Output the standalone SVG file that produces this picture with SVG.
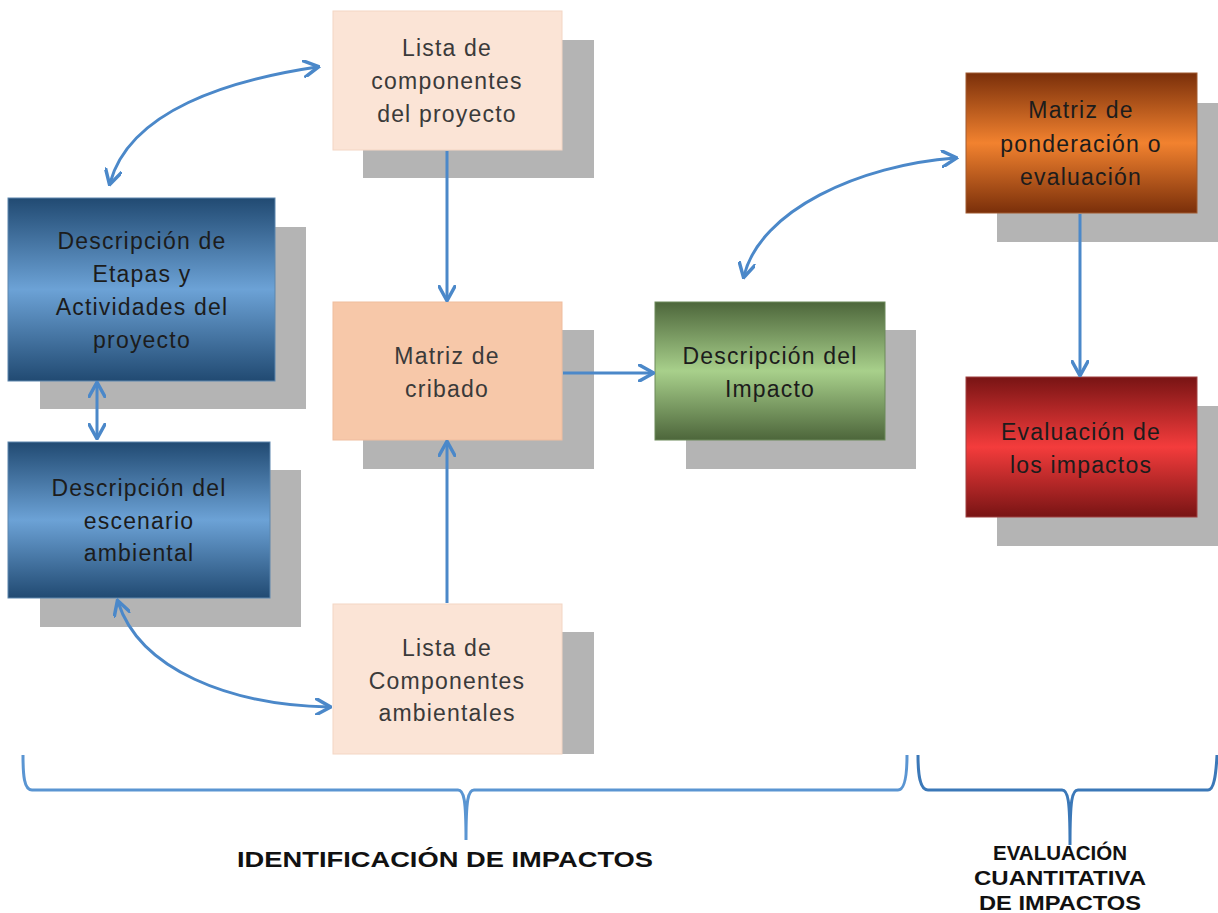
<svg xmlns="http://www.w3.org/2000/svg" width="1218" height="913" viewBox="0 0 1218 913">
<style>
.sh{fill:#b4b4b4}
.t{font-family:"Liberation Sans",Arial,sans-serif;font-size:23px;letter-spacing:1.2px;fill:#1c1c1c;text-anchor:middle}
.tp{fill:#3a3a3a}
.c{fill:none;stroke:#4b88c9;stroke-width:3}
.br{fill:none;stroke:#5a95d2;stroke-width:3}
.br2{fill:none;stroke:#3b78b8;stroke-width:3}
.h{font-family:"Liberation Sans",Arial,sans-serif;font-weight:bold;fill:#111;text-anchor:middle}
</style>
<defs>
<linearGradient id="gb" x1="0" y1="0" x2="0" y2="1"><stop offset="0" stop-color="#214a72"/><stop offset="0.5" stop-color="#6ca2d6"/><stop offset="1" stop-color="#214a72"/></linearGradient>
<linearGradient id="gg" x1="0" y1="0" x2="0" y2="1"><stop offset="0" stop-color="#4d663b"/><stop offset="0.5" stop-color="#a8d08b"/><stop offset="1" stop-color="#4d663b"/></linearGradient>
<linearGradient id="go" x1="0" y1="0" x2="0" y2="1"><stop offset="0" stop-color="#7a2f0a"/><stop offset="0.5" stop-color="#f2822f"/><stop offset="1" stop-color="#7a2f0a"/></linearGradient>
<linearGradient id="gr" x1="0" y1="0" x2="0" y2="1"><stop offset="0" stop-color="#781414"/><stop offset="0.5" stop-color="#f43c3c"/><stop offset="1" stop-color="#781414"/></linearGradient>
<marker id="ah" viewBox="0 0 10 10" refX="8" refY="5" markerWidth="5.8" markerHeight="5.8" orient="auto-start-reverse"><path d="M0,0 L9,5 L0,10" fill="none" stroke="#4b88c9" stroke-width="2"/></marker>
</defs>

<g id="n-etapas">
<rect class="sh" x="40" y="227" width="266" height="182"/>
<rect x="8" y="198" width="267" height="183" fill="url(#gb)" stroke="#5c86ad" stroke-width="1"/>
<text class="t" x="142" y="249">Descripción de</text>
<text class="t" x="142" y="282">Etapas y</text>
<text class="t" x="142" y="315">Actividades del</text>
<text class="t" x="142" y="348">proyecto</text>
</g>

<g id="n-escenario">
<rect class="sh" x="40" y="470" width="261" height="157"/>
<rect x="8" y="442" width="262" height="156" fill="url(#gb)" stroke="#5c86ad" stroke-width="1"/>
<text class="t" x="139" y="496">Descripción del</text>
<text class="t" x="139" y="529">escenario</text>
<text class="t" x="139" y="561">ambiental</text>
</g>

<g id="n-lista-proyecto">
<rect class="sh" x="363" y="40" width="231" height="138"/>
<rect x="333" y="11" width="229" height="139" fill="#fbe4d6" stroke="#f3d6c4" stroke-width="1"/>
<text class="t tp" x="447" y="56">Lista de</text>
<text class="t tp" x="447" y="89">componentes</text>
<text class="t tp" x="447" y="122">del proyecto</text>
</g>

<g id="n-cribado">
<rect class="sh" x="363" y="330" width="231" height="139"/>
<rect x="333" y="302" width="229" height="138" fill="#f7c8a9" stroke="#efbd9e" stroke-width="1"/>
<text class="t tp" x="447" y="364">Matriz de</text>
<text class="t tp" x="447" y="397">cribado</text>
</g>

<g id="n-lista-ambiental">
<rect class="sh" x="363" y="632" width="231" height="122"/>
<rect x="333" y="604" width="229" height="150" fill="#fbe4d6" stroke="#f3d6c4" stroke-width="1"/>
<text class="t tp" x="447" y="656">Lista de</text>
<text class="t tp" x="447" y="689">Componentes</text>
<text class="t tp" x="447" y="721">ambientales</text>
</g>

<g id="n-impacto">
<rect class="sh" x="686" y="330" width="230" height="139"/>
<rect x="655" y="302" width="230" height="138" fill="url(#gg)" stroke="#6d8a5a" stroke-width="1"/>
<text class="t" x="770" y="364">Descripción del</text>
<text class="t" x="770" y="397">Impacto</text>
</g>

<g id="n-ponderacion">
<rect class="sh" x="997" y="103" width="221" height="139"/>
<rect x="966" y="73" width="231" height="140" fill="url(#go)" stroke="#a05a30" stroke-width="1"/>
<text class="t" x="1081" y="118">Matriz de</text>
<text class="t" x="1081" y="152">ponderación o</text>
<text class="t" x="1081" y="185">evaluación</text>
</g>

<g id="n-evaluacion">
<rect class="sh" x="997" y="406" width="221" height="140"/>
<rect x="966" y="377" width="231" height="140" fill="url(#gr)" stroke="#a04040" stroke-width="1"/>
<text class="t" x="1081" y="440">Evaluación de</text>
<text class="t" x="1081" y="473">los impactos</text>
</g>

<g id="connectors">
<path class="c" d="M317,67 C230,80 130,110 110,183" marker-start="url(#ah)" marker-end="url(#ah)"/>
<path class="c" d="M97,384 L97,437" marker-start="url(#ah)" marker-end="url(#ah)"/>
<path class="c" d="M118,602 C140,670 230,705 329,707" marker-start="url(#ah)" marker-end="url(#ah)"/>
<path class="c" d="M447,151 L447,299" marker-end="url(#ah)"/>
<path class="c" d="M447,603 L447,443" marker-end="url(#ah)"/>
<path class="c" d="M563,373 L652,373" marker-end="url(#ah)"/>
<path class="c" d="M744,276 C760,210 860,165 955,158" marker-start="url(#ah)" marker-end="url(#ah)"/>
<path class="c" d="M1080,214 L1080,374" marker-end="url(#ah)"/>
</g>

<g id="braces">
<path class="br" d="M23,755 C23,775 24,790 32,790 L458,790 C464,790 466,800 466,840 M466,840 C466,800 468,790 474,790 L898,790 C905,790 907,775 907,755"/>
<path class="br2" d="M918,755 C918,775 920,790 928,790 L1062,790 C1068,790 1070,800 1070,845 M1070,845 C1070,800 1072,790 1078,790 L1208,790 C1214,790 1216,775 1217,755"/>
</g>

<g id="labels">
<text class="h" x="445" y="867" font-size="22" textLength="416" lengthAdjust="spacingAndGlyphs">IDENTIFICACIÓN DE IMPACTOS</text>
<text class="h" x="1060" y="860" font-size="21" textLength="134" lengthAdjust="spacingAndGlyphs">EVALUACIÓN</text>
<text class="h" x="1060" y="885" font-size="21" textLength="172" lengthAdjust="spacingAndGlyphs">CUANTITATIVA</text>
<text class="h" x="1060" y="910" font-size="21" textLength="162" lengthAdjust="spacingAndGlyphs">DE IMPACTOS</text>
</g>
</svg>
